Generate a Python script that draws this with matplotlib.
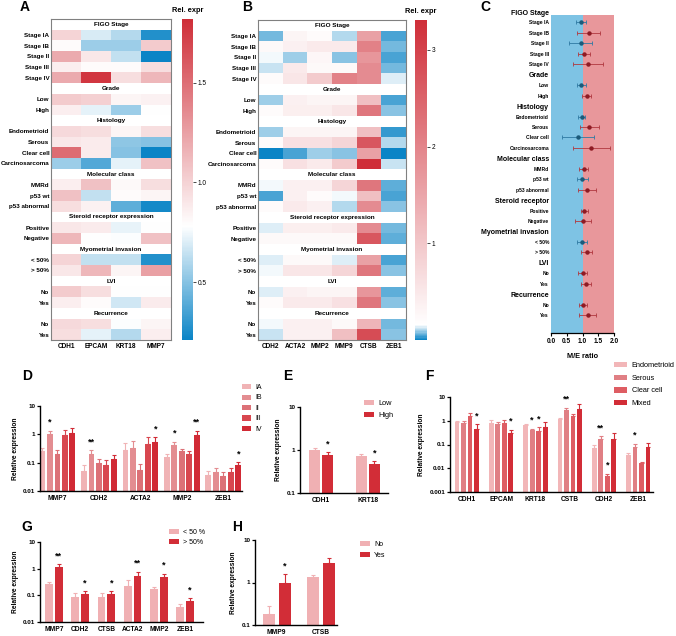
import numpy as np
import matplotlib
matplotlib.use('Agg')
import matplotlib.pyplot as plt
from matplotlib.colors import LinearSegmentedColormap, Normalize
from matplotlib.ticker import FixedLocator, NullLocator

plt.rcParams['font.family'] = ['Liberation Sans', 'DejaVu Sans']

# ---- shared row structure (heatmaps A/B and forest plot C) ----
GROUPS_HEAT = ['FIGO Stage', 'Grade', 'Histology', 'Molecular class',
               'Steroid receptor expression', 'Myometrial invasion', 'LVI', 'Recurrence']
GROUPS_RATIO = ['FIGO Stage', 'Grade', 'Histology', 'Molecular class',
                'Steroid receptor', 'Myometrial invasion', 'LVI', 'Recurrence']
SUBGROUPS = [['Stage IA', 'Stage IB', 'Stage II', 'Stage III', 'Stage IV'],
             ['Low', 'High'],
             ['Endometrioid', 'Serous', 'Clear cell', 'Carcinosarcoma'],
             ['MMRd', 'p53 wt', 'p53 abnormal'],
             ['Positive', 'Negative'],
             ['< 50%', '> 50%'],
             ['No', 'Yes'],
             ['No', 'Yes']]

# ---- A: epithelial markers ----
A_GENES = ['CDH1', 'EPCAM', 'KRT18', 'MMP7']
A_CDH1 = [0.99, 0.80, 1.20, 0.86, 1.20, 1.04, 0.86, 0.97, 0.90, 1.51, 0.55,
          0.86, 1.09, 0.94, 0.90, 1.14, 0.99, 0.90, 1.04, 0.86, 0.97, 0.94]
A_EPCAM = [0.69, 0.55, 0.90, 0.80, 1.77, 1.01, 0.72, 0.94, 0.88, 0.88, 0.38,
           1.09, 0.64, 0.85, 0.88, 0.78, 0.64, 1.14, 0.94, 0.80, 0.94, 0.72]
A_KRT18 = [0.61, 0.55, 0.64, 0.80, 0.94, 0.83, 0.55, 0.83, 0.52, 0.50, 0.72,
           0.81, 0.80, 0.41, 0.73, 0.77, 0.64, 0.83, 0.78, 0.67, 0.77, 0.61]
A_MMP7 = [0.27, 1.04, 0.21, 0.94, 1.14, 0.85, 0.78, 0.94, 0.50, 0.21, 1.09,
          0.94, 0.83, 0.24, 0.78, 1.09, 0.27, 1.25, 0.78, 0.88, 0.83, 0.86]

# ---- B: mesenchymal markers ----
B_GENES = ['CDH2', 'ACTA2', 'MMP2', 'MMP9', 'CTSB', 'ZEB1']
B_CDH2 = [0.07, 0.24, 0.15, 0.12, 0.21, 0.10, 0.21, 0.10, 0.21, 0.00, 0.21,
          0.15, 0.05, 0.21, 0.13, 0.24, 0.13, 0.15, 0.13, 0.21, 0.15, 0.12]
B_ACTA2 = [0.31, 0.37, 0.10, 0.47, 0.53, 0.37, 0.40, 0.31, 0.62, 0.04, 0.62,
           0.37, 0.37, 0.47, 0.40, 0.24, 0.24, 0.53, 0.37, 0.47, 0.37, 0.37]
B_MMP2 = [0.21, 0.47, 0.28, 0.24, 0.94, 0.31, 0.40, 0.31, 0.62, 0.10, 0.47,
          0.37, 0.21, 0.37, 0.40, 0.24, 0.24, 0.53, 0.31, 0.47, 0.37, 0.37]
B_MMP9 = [0.11, 0.47, 0.09, 0.24, 2.05, 0.31, 0.53, 0.31, 0.78, 0.09, 0.94,
          0.78, 0.15, 0.11, 0.47, 0.24, 0.13, 0.78, 0.31, 0.62, 0.24, 1.10]
B_CTSB = [1.57, 2.05, 1.73, 1.89, 1.89, 1.10, 2.20, 1.10, 2.68, 1.57, 3.31,
          2.20, 1.10, 1.89, 1.89, 2.68, 1.57, 2.20, 1.73, 2.20, 1.26, 2.84]
B_ZEB1 = [0.04, 0.07, 0.04, 0.07, 0.13, 0.05, 0.08, 0.03, 0.11, 0.01, 0.12,
          0.06, 0.05, 0.09, 0.07, 0.06, 0.05, 0.09, 0.06, 0.08, 0.07, 0.08]

# ---- C: M/E ratio (mean, CI low, CI high) ----
ME_RATIO = [0.94, 1.21, 0.95, 1.05, 1.18, 0.95, 1.13, 0.98, 1.21, 0.86, 1.28,
            1.04, 0.99, 1.15, 1.06, 1.02, 0.98, 1.14, 1.01, 1.11, 1.01, 1.16]
ME_LOW = [0.78, 0.84, 0.57, 0.87, 0.71, 0.81, 0.99, 0.87, 0.92, 0.34, 0.71,
          0.89, 0.81, 0.86, 0.94, 0.75, 0.84, 0.96, 0.87, 0.94, 0.89, 0.89]
ME_HIGH = [1.12, 1.56, 1.31, 1.23, 1.65, 1.10, 1.26, 1.08, 1.52, 1.38, 1.87,
           1.18, 1.17, 1.43, 1.18, 1.28, 1.13, 1.31, 1.15, 1.27, 1.13, 1.42]

# ---- D: FIGO stage ----
D_GENES = ['MMP7', 'CDH2', 'ACTA2', 'MMP2', 'ZEB1']
D_LABELS = ['IA', 'IB', 'II', 'III', 'IV']
D_IA = [0.26, 0.05, 0.27, 0.16, 0.037]
D_IB = [1.05, 0.20, 0.33, 0.43, 0.048]
D_II = [0.21, 0.10, 0.057, 0.26, 0.035]
D_III = [0.92, 0.08, 0.45, 0.20, 0.048]
D_IV = [1.12, 0.13, 0.52, 0.95, 0.080]
D_IA_ERR = [0.07, 0.03, 0.23, 0.04, 0.013]
D_IB_ERR = [0.30, 0.08, 0.27, 0.12, 0.017]
D_II_ERR = [0.07, 0.04, 0.033, 0.04, 0.012]
D_III_ERR = [0.45, 0.04, 0.35, 0.05, 0.017]
D_IV_ERR = [0.50, 0.06, 0.28, 0.40, 0.025]
D_STARS = [(0, 1, '*'), (1, 1, '**'), (2, 4, '*'), (3, 1, '*'), (3, 4, '**'), (4, 4, '*')]

# ---- E: grade ----
E_GENES = ['CDH1', 'KRT18']
E_LABELS = ['Low', 'High']
E_LOW = [1.00, 0.72]
E_HIGH = [0.76, 0.48]
E_LOW_ERR = [0.10, 0.10]
E_HIGH_ERR = [0.14, 0.07]
E_STARS = [(0, 1, '*'), (1, 1, '*')]

# ---- F: histology ----
F_GENES = ['CDH1', 'EPCAM', 'KRT18', 'CSTB', 'CDH2', 'ZEB1']
F_LABELS = ['Endometrioid', 'Serous', 'Clear cell', 'Mixed']
F_ENDO = [0.90, 0.82, 0.68, 1.15, 0.070, 0.036]
F_SEROUS = [0.80, 0.72, 0.42, 2.80, 0.170, 0.078]
F_CLEAR = [1.55, 0.78, 0.38, 1.55, 0.0045, 0.017]
F_MIXED = [0.47, 0.32, 0.55, 3.20, 0.170, 0.080]
F_ENDO_ERR = [0.10, 0.28, 0.07, 0.10, 0.030, 0.009]
F_SEROUS_ERR = [0.15, 0.18, 0.05, 0.70, 0.050, 0.032]
F_CLEAR_ERR = [0.65, 0.32, 0.14, 0.45, 0.0015, 0.002]
F_MIXED_ERR = [0.23, 0.10, 0.30, 2.00, 0.130, 0.035]
F_STARS = [(0, 3, '*'), (1, 3, '*'), (2, 1, '*'), (2, 2, '*'), (3, 1, '**'),
           (4, 1, '**'), (4, 2, '*'), (5, 1, '*')]

# ---- G: myometrial invasion ----
G_GENES = ['MMP7', 'CDH2', 'CTSB', 'ACTA2', 'MMP2', 'ZEB1']
G_LABELS = ['< 50 %', '> 50%']
G_LOW = [0.27, 0.085, 0.085, 0.22, 0.18, 0.037]
G_HIGH = [1.20, 0.110, 0.110, 0.52, 0.50, 0.062]
G_LOW_ERR = [0.06, 0.035, 0.035, 0.15, 0.03, 0.010]
G_HIGH_ERR = [0.30, 0.030, 0.030, 0.26, 0.15, 0.016]
G_STARS = [(0, 1, '**'), (1, 1, '*'), (2, 1, '*'), (3, 1, '**'), (4, 1, '*'), (5, 1, '*')]

# ---- H: LVI ----
H_GENES = ['MMP9', 'CTSB']
H_LABELS = ['No', 'Yes']
H_NO = [0.18, 1.35]
H_YES = [0.95, 2.90]
H_NO_ERR = [0.10, 0.15]
H_YES_ERR = [0.60, 0.80]
H_STARS = [(0, 1, '*')]

BLUE = '#0a84c6'
RED = '#cf2e38'
W, H = 676, 636


def fig_rect(x0, y0, x1, y1):
    """pixel box (top-left origin) -> figure fraction rect"""
    return [x0 / W, 1 - y1 / H, (x1 - x0) / W, (y1 - y0) / H]


def heatmap(fig, rect, crect, columns, genes, vmin, vcenter, vmax, cticks, clabels):
    ax = fig.add_axes(rect)
    nrows = len(GROUPS_HEAT) + sum(len(s) for s in SUBGROUPS)
    mat = np.full((nrows, len(genes)), np.nan)
    item_rows, item_labels = [], []
    r, k = 0, 0
    for g, subs in zip(GROUPS_HEAT, SUBGROUPS):
        ax.text((len(genes) - 1) / 2, r, g, ha='center', va='center',
                fontsize=4.6, fontweight='bold')
        r += 1
        for s in subs:
            mat[r] = [col[k] for col in columns]
            item_rows.append(r)
            item_labels.append(s)
            r += 1
            k += 1

    cmap = LinearSegmentedColormap.from_list(
        'div', [(0, BLUE), ((vcenter - vmin) / (vmax - vmin), 'white'), (1, RED)])
    cmap.set_bad('white')
    im = ax.imshow(np.ma.masked_invalid(mat), cmap=cmap, norm=Normalize(vmin, vmax),
                   aspect='auto', interpolation='nearest')
    ax.set_yticks(item_rows, item_labels, fontsize=4.5, fontweight='bold')
    ax.set_xticks(range(len(genes)), genes, fontsize=4.7, fontweight='bold')
    ax.tick_params(axis='y', length=0, pad=1.2)
    ax.tick_params(axis='x', length=0, pad=2)
    for sp in ax.spines.values():
        sp.set_color('#808080')
        sp.set_linewidth(0.8)

    cax = fig.add_axes(crect)
    cb = fig.colorbar(im, cax=cax)
    cb.outline.set_visible(False)
    cb.set_ticks(cticks, labels=clabels)
    cax.tick_params(labelsize=4.7, length=2, width=0.5, pad=1.5)
    cax.set_title('Rel. expr', fontsize=5.3, fontweight='bold', pad=5)


def ratio_panel(fig, rect):
    ax = fig.add_axes(rect)
    ylabels, ysizes = [], []
    r, k = 0, 0
    for g, subs in zip(GROUPS_RATIO, SUBGROUPS):
        ylabels.append(g)
        ysizes.append(5.0)
        r += 1
        for s in subs:
            v = ME_RATIO[k]
            col = '#1b5a7a' if v < 1 else '#8e1b24'
            ecol = '#2f7aa3' if v < 1 else '#b0383f'
            ax.errorbar(v, r, xerr=[[v - ME_LOW[k]], [ME_HIGH[k] - v]], fmt='o',
                        color=col, ecolor=ecol, ms=2.2, elinewidth=0.6,
                        capsize=1.2, capthick=0.6, zorder=3)
            ylabels.append(s)
            ysizes.append(3.6)
            r += 1
            k += 1
    nrows = r
    ytop = 0.29
    ybot = nrows + 0.7
    ax.fill_betweenx([ytop, ybot], 0, 1, color='#7ec3e4', lw=0, zorder=1)
    ax.fill_betweenx([ytop, ybot], 1, 2, color='#e8979b', lw=0, zorder=1)
    ax.set_xlim(0, 2)
    ax.set_ylim(ybot, -0.5)
    ax.set_yticks(range(nrows), ylabels, fontweight='bold')
    for lab, sz in zip(ax.get_yticklabels(), ysizes):
        lab.set_fontsize(sz)
    ax.tick_params(axis='y', length=0, pad=1.5)
    ax.set_xticks([0, 0.5, 1.0, 1.5, 2.0], ['0.0', '0.5', '1.0', '1.5', '2.0'],
                  fontsize=4.7, fontweight='bold')
    ax.tick_params(axis='x', length=2, width=0.8, pad=1.5)
    for s in ['top', 'right', 'left']:
        ax.spines[s].set_visible(False)
    ax.spines['bottom'].set_linewidth(0.9)
    ax.set_xlabel('M/E ratio', fontsize=5.3, fontweight='bold', labelpad=6)


def bar_panel(fig, rect, genes, series, errs, colors, labels, width, pitch,
              ylim, xlim, stars, leg_xy, leg_fs, leg_hl, leg_ls, leg_pad):
    ax = fig.add_axes(rect)
    x = np.arange(len(genes))
    n = len(series)
    handles = []
    tops = []
    for j, (vals, err, col) in enumerate(zip(series, errs, colors)):
        pos = x + (j - (n - 1) / 2) * pitch
        vals = np.array(vals)
        err = np.array(err)
        b = ax.bar(pos, vals - ylim[0], width, bottom=ylim[0], color=col, lw=0, zorder=2)
        ax.errorbar(pos, vals, yerr=[np.zeros(len(vals)), err], fmt='none',
                    ecolor=col, elinewidth=0.8, capsize=1.5, capthick=0.8, zorder=2)
        handles.append(b)
        tops.append((pos, vals + err))
    for gi, si, txt in stars:
        px, top = tops[si][0][gi], tops[si][1][gi]
        ax.annotate(txt, (px, top), xytext=(0, 6), textcoords='offset points',
                    ha='center', va='center', fontsize=6.5, fontweight='bold')
    ax.set_yscale('log')
    ax.set_ylim(ylim)
    ax.set_xlim(xlim)
    dec = 10.0 ** np.arange(np.log10(ylim[0]), np.log10(ylim[1]) + 0.5)
    ax.yaxis.set_major_locator(FixedLocator(dec))
    ax.yaxis.set_minor_locator(NullLocator())
    ax.set_yticks(dec, [f'{d:g}' for d in dec], fontsize=4.5, fontweight='bold')
    ax.set_xticks(x, genes, fontsize=4.8, fontweight='bold')
    ax.tick_params(axis='x', length=0, pad=3)
    ax.tick_params(axis='y', length=2.5, width=0.9, pad=1)
    for s in ['top', 'right']:
        ax.spines[s].set_visible(False)
    for s in ['left', 'bottom']:
        ax.spines[s].set_linewidth(1.0)
    ax.set_ylabel('Relative expression', fontsize=4.8, fontweight='bold', labelpad=leg_pad)
    fig.legend(handles, labels, loc='upper left', bbox_to_anchor=leg_xy,
               bbox_transform=fig.transFigure, frameon=False, fontsize=leg_fs,
               handlelength=leg_hl, handleheight=0.75, handletextpad=0.6,
               labelspacing=leg_ls, borderpad=0, borderaxespad=0)
    return ax


def main():
    fig = plt.figure(figsize=(6.76, 6.36), dpi=100)

    heatmap(fig, fig_rect(51, 19, 171, 340), fig_rect(182, 19, 193, 340),
            [A_CDH1, A_EPCAM, A_KRT18, A_MMP7], A_GENES,
            0.21, 0.78, 1.82, [0.5, 1.0, 1.5], ['0.5', '1.0', '1.5'])
    heatmap(fig, fig_rect(258, 20, 406, 340), fig_rect(415, 20, 427, 340),
            [B_CDH2, B_ACTA2, B_MMP2, B_MMP9, B_CTSB, B_ZEB1], B_GENES,
            0.0, 0.15, 3.31, [1, 2, 3], ['1', '2', '3'])
    ratio_panel(fig, fig_rect(551, 6.8, 614, 333))

    pinks = {'l': '#f0b0b3', 'd': '#d22d37'}
    bar_panel(fig, fig_rect(40, 406, 242, 491), D_GENES,
              [D_IA, D_IB, D_II, D_III, D_IV],
              [D_IA_ERR, D_IB_ERR, D_II_ERR, D_III_ERR, D_IV_ERR],
              ['#f0b3b5', '#e38d91', '#dc7177', '#d8474f', '#d12a35'], D_LABELS,
              0.14, 0.18, (0.01, 10), (-0.42, 4.45), D_STARS,
              (242 / W, 1 - 384 / H), 5.0, 1.3, 0.5, 3)
    bar_panel(fig, fig_rect(300, 407, 388, 493), E_GENES, [E_LOW, E_HIGH],
              [E_LOW_ERR, E_HIGH_ERR], [pinks['l'], pinks['d']], E_LABELS,
              0.23, 0.28, (0.1, 10), (-0.45, 1.43), E_STARS,
              (364 / W, 1 - 400 / H), 5.3, 1.4, 0.6, 3)
    bar_panel(fig, fig_rect(450, 397, 653, 492), F_GENES,
              [F_ENDO, F_SEROUS, F_CLEAR, F_MIXED],
              [F_ENDO_ERR, F_SEROUS_ERR, F_CLEAR_ERR, F_MIXED_ERR],
              ['#f2b6b8', '#e07f84', '#de5d63', '#d22d37'], F_LABELS,
              0.14, 0.19, (0.001, 10), (-0.49, 5.43), F_STARS,
              (614 / W, 1 - 362 / H), 5.3, 1.8, 0.72, 3)
    bar_panel(fig, fig_rect(40, 542, 203, 622), G_GENES, [G_LOW, G_HIGH],
              [G_LOW_ERR, G_HIGH_ERR], [pinks['l'], pinks['d']], G_LABELS,
              0.30, 0.37, (0.01, 10), (-0.53, 5.68), G_STARS,
              (169 / W, 1 - 529 / H), 5.0, 1.4, 0.42, 3)
    bar_panel(fig, fig_rect(255, 540, 337, 625), H_GENES, [H_NO, H_YES],
              [H_NO_ERR, H_YES_ERR], [pinks['l'], pinks['d']], H_LABELS,
              0.27, 0.36, (0.1, 10), (-0.49, 1.36), H_STARS,
              (360 / W, 1 - 541 / H), 5.0, 1.4, 0.56, 3)

    # panel letters
    for txt, px, py in [('A', 25, 7), ('B', 247, 7), ('C', 485, 7), ('D', 27, 376),
                        ('E', 288, 376), ('F', 429, 376), ('G', 27, 527), ('H', 237, 527)]:
        fig.text(px / W, 1 - py / H, txt, ha='center', va='center',
                 fontsize=10, fontweight='bold')

    fig.savefig('out.png', dpi=100, facecolor='white')
    plt.close(fig)


if __name__ == '__main__':
    main()
